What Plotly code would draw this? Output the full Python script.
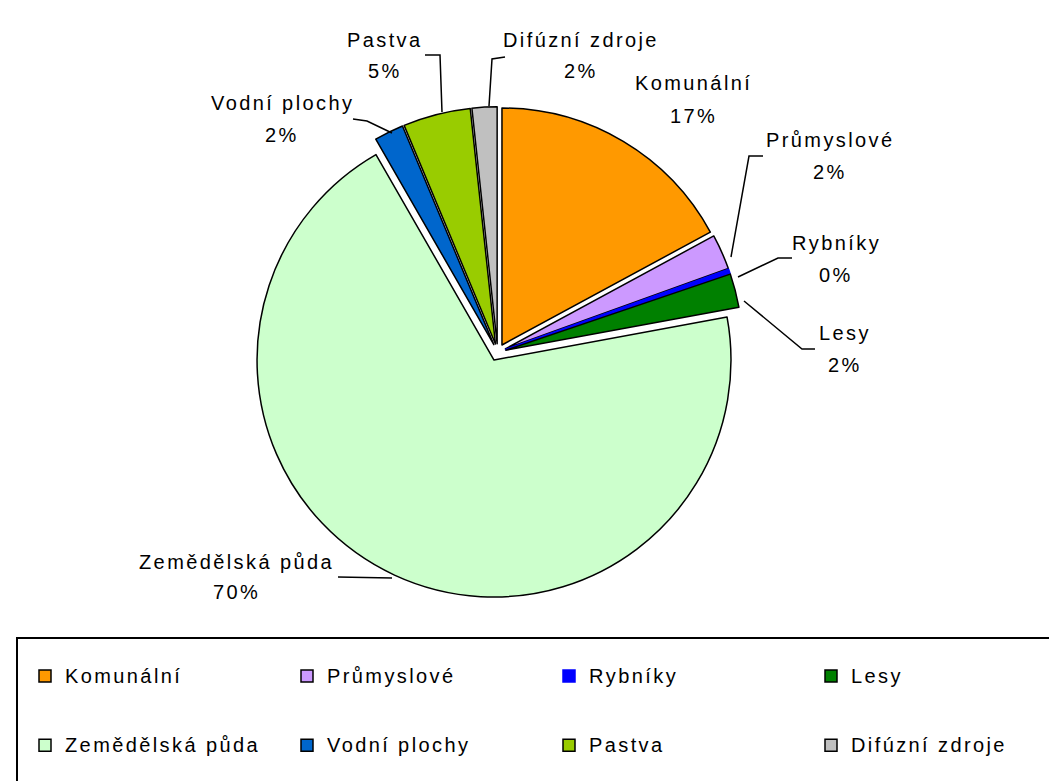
import plotly.graph_objects as go

# ---- data ----
categories = ["Komunální", "Průmyslové", "Rybníky", "Lesy",
              "Zemědělská půda", "Vodní plochy", "Pastva", "Difúzní zdroje"]
values = [17.1, 2.4, 0.3, 2.3, 69.6, 2.0, 4.6, 1.7]
colors = ["#FF9900", "#CC99FF", "#0000FF", "#008000",
          "#CCFFCC", "#0066CC", "#99CC00", "#C0C0C0"]
line_colors = ["black", "black", "#0000FF", "black",
               "black", "black", "black", "black"]

# ---- layout helpers (pixel positions of labels / leader lines) ----
W, H = 1049, 781
FONT = "Liberation Sans, Arial, sans-serif"
SPACED = "<span style='letter-spacing:2.4px'>{}</span>"

def px(x):
    return x / W

def py(y):
    return 1 - y / H

label_layout = {
    "Komunální":       (693, 83, 116, []),
    "Průmyslové":      (830, 140, 172, [(763, 156), (749, 156), (731, 257)]),
    "Rybníky":         (836, 243, 275, [(792, 258), (778, 258), (738, 277)]),
    "Lesy":            (845, 333, 365, [(815, 349), (802, 349), (744, 301)]),
    "Zemědělská půda": (236, 562, 592, [(338, 577), (392, 578)]),
    "Vodní plochy":    (282, 103, 135, [(353, 119), (367, 121), (392, 133)]),
    "Pastva":          (385, 40, 71, [(425, 55), (440, 55), (442, 112)]),
    "Difúzní zdroje":  (581, 40, 71, [(505, 57), (492, 59), (489, 106)]),
}

# pie centre / size in pixels
cx, cy, box = 497.6, 352.3, 491

total = sum(values)
pcts = [round(v / total * 100) for v in values]

legend_labels = [" <br><span style='font-size:20px;letter-spacing:2.4px'>"
                 + c + "</span><br> " for c in categories]

fig = go.Figure(go.Pie(
    labels=legend_labels,
    values=values,
    sort=False,
    direction="clockwise",
    rotation=0,
    pull=0.036,
    textinfo="none",
    hovertext=categories,
    hoverinfo="text+percent",
    marker=dict(colors=colors, line=dict(color=line_colors, width=1.5)),
    domain=dict(x=[px(cx - box / 2), px(cx + box / 2)],
                y=[py(cy + box / 2), py(cy - box / 2)]),
))

annotations = []
shapes = []
for cat, p in zip(categories, pcts):
    x, y1, y2, pts = label_layout[cat]
    annotations.append(dict(x=px(x), y=py(y1), xref="paper", yref="paper",
                            text=SPACED.format(cat), showarrow=False,
                            xanchor="center", yanchor="middle",
                            font=dict(family=FONT, size=20, color="black")))
    annotations.append(dict(x=px(x), y=py(y2), xref="paper", yref="paper",
                            text=SPACED.format(f"{p}%"), showarrow=False,
                            xanchor="center", yanchor="middle",
                            font=dict(family=FONT, size=20, color="black")))
    if pts:
        path = "M " + " L ".join(f"{px(a):.5f},{py(b):.5f}" for a, b in pts)
        shapes.append(dict(type="path", path=path, xref="paper", yref="paper",
                           line=dict(color="black", width=1.5)))

# legend frame
shapes.append(dict(type="rect", xref="paper", yref="paper",
                   x0=px(17), x1=1.05, y0=py(638), y1=-0.05,
                   line=dict(color="black", width=2), fillcolor="rgba(0,0,0,0)"))

fig.update_layout(
    width=W, height=H,
    margin=dict(l=0, r=0, t=0, b=0, autoexpand=False),
    paper_bgcolor="white",
    plot_bgcolor="white",
    font=dict(family=FONT, color="black"),
    annotations=annotations,
    shapes=shapes,
    showlegend=True,
    legend=dict(orientation="h", x=px(25), y=py(636.4),
                xanchor="left", yanchor="top",
                entrywidth=217, entrywidthmode="pixels",
                bgcolor="rgba(0,0,0,0)", borderwidth=0,
                font=dict(family=FONT, size=17, color="black"),
                itemclick=False, itemdoubleclick=False),
)

fig.write_html(
    "out.html",
    config={"displayModeBar": False},
    post_script="document.body.style.margin='0px';"
                "document.body.style.overflow='hidden';",
)
